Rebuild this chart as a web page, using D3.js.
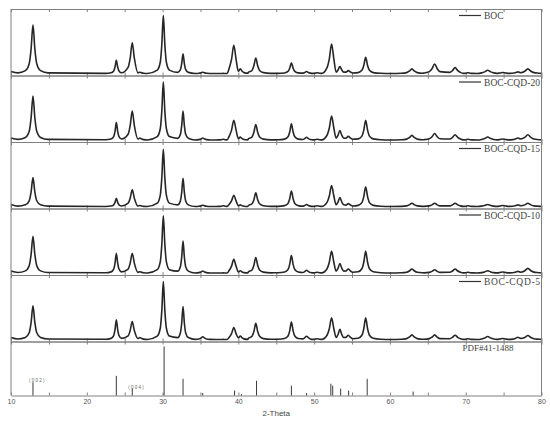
<!DOCTYPE html>
<html>
<head>
<meta charset="utf-8">
<script src="https://cdn.jsdelivr.net/npm/d3@7/dist/d3.min.js"></script>
<style>
  body { margin: 0; background: #fff; }
  .frame line, .frame path { stroke: #808080; }
  .tick text { fill: #555; font-family: "Liberation Sans", Arial, sans-serif; font-size: 7px; }
</style>
</head>
<body>
<div id="chart"></div>
<script>
var peakTheta = [12.9, 23.9, 26.0, 27.0, 30.1, 32.7, 35.3, 38.0, 39.4, 40.25, 42.3, 47.0, 49.0, 50.4,
                 52.3, 53.4, 54.5, 56.8, 62.9, 65.9, 68.6, 70.3, 72.9, 74.9, 76.9, 78.2];
var peakWidth = [0.5, 0.35, 0.55, 0.5, 0.4, 0.35, 0.5, 0.5, 0.6, 0.5, 0.5, 0.45, 0.5, 0.6,
                 0.6, 0.5, 0.6, 0.5, 0.7, 0.7, 0.7, 0.6, 0.8, 0.8, 0.7, 0.8];

// peak top intensities per sample (same order as peakTheta)
var sampleNames = ['BOC', 'BOC-CQD-20', 'BOC-CQD-15', 'BOC-CQD-10', 'BOC-CQD-5'];
var intBOC   = [84, 25, 54, 5.5, 99, 36, 5.5, 3.5, 50, 11, 29, 21, 6.6, 4.5, 52, 15, 8, 30, 11, 19, 13, 4.5, 8.8, 5, 6, 11];
var intCQD20 = [76, 32, 51, 6.6, 99, 51, 6.6, 4.5, 36, 8, 29, 30, 7.8, 4.5, 43, 19, 9.4, 36, 11, 14, 12, 4.5, 8.3, 5, 6.6, 12];
var intCQD15 = [51, 17, 31, 5, 98, 50, 5.5, 4.5, 22, 6, 26, 29, 6.6, 4.5, 38, 18, 8, 36, 8.8, 8.8, 8.8, 4.5, 6.6, 5, 6, 8.8];
var intCQD10 = [64, 36, 36, 5.5, 98, 56, 6.6, 3.5, 26, 7, 29, 32, 7.8, 4.5, 39, 19, 10, 39, 10, 8.8, 10, 4.5, 7, 5, 6, 11];
var intCQD5  = [59, 36, 33, 6.6, 99, 58, 7.8, 3.5, 23, 9, 30, 32, 8.8, 4.5, 39, 20, 10.4, 39, 11, 11, 10.4, 4.5, 8.3, 5, 7, 10];
var sampleInt = [intBOC, intCQD20, intCQD15, intCQD10, intCQD5];
var baseLevel = 3.2;
var startLevel = 6.5;

// reference card PDF#41-1488 sticks
var pdfTheta = [12.9, 23.9, 26.0, 30.2, 32.7, 35.3, 39.5, 40.4, 42.4, 47.0, 49.0, 52.2, 52.45, 53.5, 54.55, 57.0, 63.06];
var pdfInt   = [27, 40, 14, 100, 34, 5, 10, 3, 30, 20, 5, 24, 20, 14, 10, 34, 8];
var pdfLabels = [{theta: 12.9, text: '( 0 0 2 )'}, {theta: 26.0, text: '( 0 0 4 )'}];
var pdfName = 'PDF#41-1488';

var xTicks = d3.range(10, 81, 5);

var width = 550, height = 426;
var plotLeft = 11, plotRight = 541.5, plotTop = 9;
var panelH = 66.5, pdfH = 54;

var svg = d3.select('#chart').append('svg')
  .attr('width', width).attr('height', height);

var x = d3.scaleLinear().domain([10, 80]).range([plotLeft, plotRight]);

// profile shape (offset in FWHM units, fraction of peak height)
var shape = [[-4, 0.015], [-2, 0.06], [-1, 0.2], [-0.5, 0.5], [0, 1], [0.5, 0.5], [1, 0.2], [2, 0.06], [4, 0.015]];

function patternPoints(tops) {
  var pts = [[10, startLevel]];
  var n = peakTheta.length;
  peakTheta.forEach(function(t, i) {
    var lo = i > 0 ? (peakTheta[i - 1] + t) / 2 : 10;
    var hi = i < n - 1 ? (t + peakTheta[i + 1]) / 2 : 80;
    shape.forEach(function(s) {
      var px = t + s[0] * peakWidth[i];
      if (px > lo && px < hi) pts.push([px, baseLevel + s[1] * (tops[i] - baseLevel)]);
    });
  });
  pts.push([80, baseLevel]);
  return pts;
}

function drawFrame(y0, y1) {
  var g = svg.append('g').attr('class', 'frame');
  g.append('g').attr('transform', 'translate(0,' + y0 + ')')
    .call(d3.axisTop(x).tickValues(xTicks).tickSize(-3).tickSizeOuter(0).tickFormat(''));
  var b = g.append('g').attr('transform', 'translate(0,' + y1 + ')')
    .call(d3.axisBottom(x).tickValues(xTicks).tickSize(-3).tickSizeOuter(0).tickPadding(4)
      .tickFormat(function(d) { return d % 10 === 0 ? d : ''; }));
  return b;
}

// sample panels
sampleNames.forEach(function(name, i) {
  var y0 = plotTop + i * panelH, y1 = y0 + panelH;
  var y = d3.scaleLinear().domain([0, 110]).range([y1, y0]);
  var bottomAxis = drawFrame(y0, y1);
  bottomAxis.selectAll('text').remove();

  var line = d3.line()
    .x(function(d) { return x(d[0]); })
    .y(function(d) { return y(d[1]); })
    .curve(d3.curveMonotoneX);

  svg.append('path')
    .datum(patternPoints(sampleInt[i]))
    .attr('d', line)
    .attr('fill', 'none')
    .attr('stroke', '#262626')
    .attr('stroke-width', 1.6)
    .attr('stroke-linejoin', 'round');

  // legend
  svg.append('line')
    .attr('x1', 459).attr('x2', 481)
    .attr('y1', y0 + 6.5).attr('y2', y0 + 6.5)
    .attr('stroke', '#333').attr('stroke-width', 1.2);
  svg.append('text')
    .attr('x', 484).attr('y', y0 + 10)
    .attr('font-family', '"Liberation Serif", "Times New Roman", serif')
    .attr('font-size', 9.5).attr('fill', '#444')
    .attr('textLength', name.length > 3 ? 56 : null)
    .text(name);
});

// reference panel
var p0 = plotTop + sampleNames.length * panelH, p1 = p0 + pdfH;
var yPdf = d3.scaleLinear().domain([0, 110]).range([p1, p0]);
drawFrame(p0, p1);

svg.append('g').selectAll('line')
  .data(pdfTheta)
  .enter().append('line')
  .attr('x1', function(d) { return x(d); })
  .attr('x2', function(d) { return x(d); })
  .attr('y1', yPdf(0))
  .attr('y2', function(d, i) { return yPdf(pdfInt[i]); })
  .attr('stroke', '#3a3a3a')
  .attr('stroke-width', 1);

svg.append('g').selectAll('text')
  .data(pdfLabels)
  .enter().append('text')
  .attr('x', function(d) { return x(d.theta) - 4; })
  .attr('y', function(d) { return yPdf(pdfInt[pdfTheta.indexOf(d.theta)]); })
  .attr('font-family', '"Liberation Sans", Arial, sans-serif')
  .attr('font-size', 4.5).attr('fill', '#666')
  .text(function(d) { return d.text; });

svg.append('text')
  .attr('x', 462.5).attr('y', p0 + 9.5)
  .attr('font-family', '"Liberation Serif", "Times New Roman", serif')
  .attr('font-size', 9).attr('fill', '#444')
  .text(pdfName);

// side borders
svg.append('line').attr('x1', plotLeft).attr('x2', plotLeft).attr('y1', plotTop).attr('y2', p1)
  .attr('stroke', '#808080');
svg.append('line').attr('x1', plotRight).attr('x2', plotRight).attr('y1', plotTop).attr('y2', p1)
  .attr('stroke', '#808080');

svg.append('text')
  .attr('x', (plotLeft + plotRight) / 2).attr('y', 416)
  .attr('text-anchor', 'middle')
  .attr('font-family', '"Liberation Sans", Arial, sans-serif')
  .attr('font-size', 8).attr('fill', '#444')
  .text('2-Theta');
</script>
</body>
</html>
